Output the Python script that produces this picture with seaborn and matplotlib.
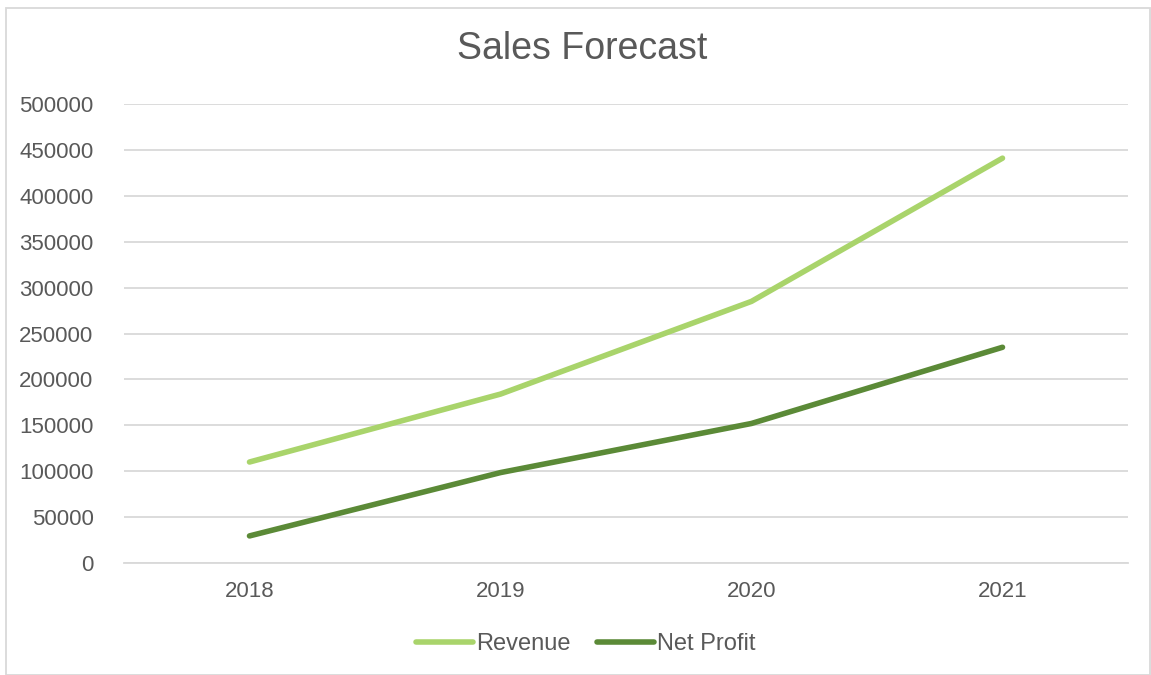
import matplotlib
matplotlib.use("Agg")
import matplotlib.pyplot as plt
import seaborn as sns
import pandas as pd
from matplotlib.patches import Rectangle

years = ["2018", "2019", "2020", "2021"]
revenue = [110000, 184000, 285000, 441000]
net_profit = [29500, 98500, 152000, 235000]
series_names = ["Revenue", "Net Profit"]
colors = ["#A9D46B", "#5B8A37"]

sns.set_theme(style="white")
plt.rcParams['font.family'] = ['Liberation Sans', 'DejaVu Sans']

df = pd.DataFrame({
    "Year": years * 2,
    "Value": revenue + net_profit,
    "Series": [series_names[0]] * 4 + [series_names[1]] * 4,
})

fig = plt.figure(figsize=(11.51, 6.75), dpi=100)
ax = fig.add_axes([124/1151, 1 - 563/675, (1128-124)/1151, (563-104)/675])

sns.lineplot(data=df, x="Year", y="Value", hue="Series", palette=colors,
             linewidth=4, ax=ax, solid_capstyle="round", sort=False)

ax.set_xlim(-0.5, 3.5)
ax.set_ylim(0, 500000)
ax.set_yticks(range(0, 500001, 50000))
ax.set_yticklabels([str(v) for v in range(0, 500001, 50000)])
ax.yaxis.grid(True, color="#D9D9D9", linewidth=1.3)
ax.set_axisbelow(True)
for s in ["top", "right", "left"]:
    ax.spines[s].set_visible(False)
ax.spines["bottom"].set_color("#D9D9D9")
ax.spines["bottom"].set_linewidth(1.3)
ax.tick_params(axis="both", labelsize=16, colors="#595959", length=0)
ax.tick_params(axis="y", pad=22)
ax.tick_params(axis="x", pad=13)
ax.set_xlabel("")
ax.set_ylabel("")

fig.text(582/1151, 1 - 49/675, "Sales Forecast", ha="center", va="center",
         fontsize=27, color="#595959")

handles, labels = ax.get_legend_handles_labels()
for h in handles:
    h.set_solid_capstyle("round")
fig.legend(handles, labels, loc="center", bbox_to_anchor=(586/1151, 1 - 644/675),
           bbox_transform=fig.transFigure,
           ncol=2, frameon=False, fontsize=17, handlelength=2.4,
           handletextpad=0.15, columnspacing=1.1, labelcolor="#595959")
ax.get_legend().remove()

fig.patches.append(Rectangle((6/1151, 0), 1144/1151, 1 - 8/675,
                             transform=fig.transFigure, fill=False,
                             edgecolor="#D9D9D9", linewidth=1.3))

fig.savefig("out.png", dpi=100)
